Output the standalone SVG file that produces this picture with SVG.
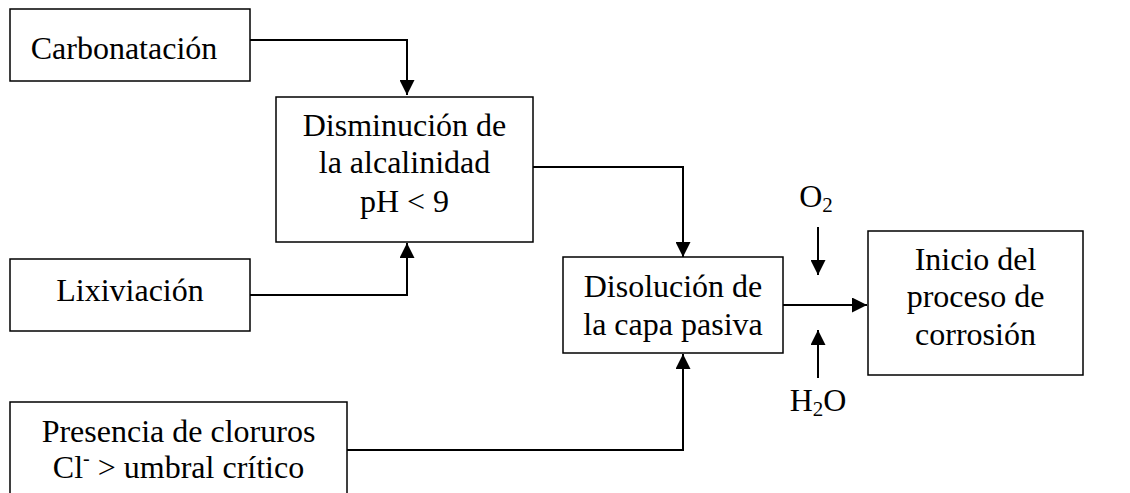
<svg xmlns="http://www.w3.org/2000/svg" width="1130" height="493" viewBox="0 0 1130 493">
<style>
.box{fill:#fff;stroke:#000;stroke-width:1.5}
.t{font-family:"Liberation Serif","Times New Roman",serif;font-size:32px;fill:#000;text-anchor:middle}
.c{fill:none;stroke:#000;stroke-width:2}
</style>
<defs>
<marker id="ah" markerWidth="15" markerHeight="15" refX="15" refY="7.5" orient="auto" markerUnits="userSpaceOnUse">
<path d="M0,0 L15,7.5 L0,15 Z" fill="#000"/>
</marker>
</defs>
<rect width="1130" height="493" fill="#fff"/>
<g id="connectors">
<path class="c" d="M250,40 H407 V95" marker-end="url(#ah)"/>
<path class="c" d="M250,295 H407 V243" marker-end="url(#ah)"/>
<path class="c" d="M533,167 H683 V257" marker-end="url(#ah)"/>
<path class="c" d="M347,450 H683 V354" marker-end="url(#ah)"/>
<path class="c" d="M783,305 H867" marker-end="url(#ah)"/>
<path class="c" d="M818,227 V275" marker-end="url(#ah)"/>
<path class="c" d="M818,378 V330" marker-end="url(#ah)"/>
</g>
<g id="carbonatacion">
<rect class="box" x="10" y="9" width="240" height="72"/>
<text class="t" x="124" y="59">Carbonatación</text>
</g>
<g id="disminucion">
<rect class="box" x="276" y="97" width="257" height="145"/>
<text class="t" x="404.5" y="136">Disminución de</text>
<text class="t" x="404.5" y="173">la alcalinidad</text>
<text class="t" x="404.5" y="212">pH &lt; 9</text>
</g>
<g id="lixiviacion">
<rect class="box" x="10" y="259" width="240" height="72"/>
<text class="t" x="130" y="301">Lixiviación</text>
</g>
<g id="presencia">
<rect class="box" x="10" y="402" width="337" height="100"/>
<text class="t" x="178.5" y="442">Presencia de cloruros</text>
<text class="t" x="178.5" y="478">Cl<tspan font-size="20" dy="-13">-</tspan><tspan dy="13"> &gt; umbral crítico</tspan></text>
</g>
<g id="disolucion">
<rect class="box" x="563" y="257" width="220" height="96"/>
<text class="t" x="673" y="297">Disolución de</text>
<text class="t" x="673" y="335">la capa pasiva</text>
</g>
<g id="inicio">
<rect class="box" x="868" y="231" width="215" height="144"/>
<text class="t" x="975.5" y="270">Inicio del</text>
<text class="t" x="975.5" y="307">proceso de</text>
<text class="t" x="975.5" y="345">corrosión</text>
</g>
<g id="o2">
<text class="t" x="816" y="207">O<tspan font-size="21" dy="5">2</tspan></text>
</g>
<g id="h2o">
<text class="t" x="818" y="411">H<tspan font-size="21" dy="5">2</tspan><tspan dy="-5">O</tspan></text>
</g>
</svg>
